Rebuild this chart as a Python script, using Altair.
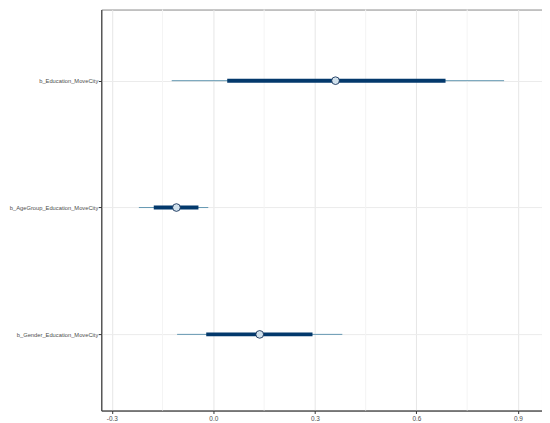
import altair as alt
import pandas as pd

params = ["b_Education_MoveCity", "b_AgeGroup_Education_MoveCity", "b_Gender_Education_MoveCity"]
ll = [-0.123, -0.220, -0.107]
l = [0.041, -0.176, -0.021]
m = [0.361, -0.109, 0.137]
h = [0.686, -0.044, 0.293]
hh = [0.859, -0.015, 0.381]
major_ticks = [-0.3, 0.0, 0.3, 0.6, 0.9]
minor_ticks = [-0.15, 0.15, 0.45, 0.75]

df = pd.DataFrame({"parameter": params, "ll": ll, "l": l, "m": m, "h": h, "hh": hh})
minor_df = pd.DataFrame({"v": minor_ticks})

xscale = alt.Scale(domain=[-0.331, 0.971], nice=False, zero=False)
yscale = alt.Scale(type="point", domain=params, padding=0.5806, align=0.483)

xaxis = alt.Axis(values=major_ticks, labelExpr="replace(format(datum.value, '.1f'), '\u2212', '-')",
                 title=None, grid=True, gridColor="#e6e6e6", gridWidth=1,
                 domainColor="#333333", tickColor="#333333", tickSize=3,
                 labelFont="Liberation Sans", labelFontSize=6.5, labelColor="#4d4d4d", labelPadding=2)
yaxis = alt.Axis(title=None, grid=True, gridColor="#ebebeb", gridWidth=1,
                 domainColor="#333333", tickColor="#333333", tickSize=3,
                 labelFont="Liberation Sans", labelFontSize=5.8, labelColor="#4d4d4d", labelPadding=0.5)

minor = alt.Chart(minor_df).mark_rule(color="#f4f4f4", strokeWidth=1).encode(
    x=alt.X("v:Q", scale=xscale, axis=xaxis)
)

base = alt.Chart(df)
outer = base.mark_rule(color="#6497b1", strokeWidth=1).encode(
    x=alt.X("ll:Q", scale=xscale),
    x2="hh:Q",
    y=alt.Y("parameter:N", scale=yscale, axis=yaxis, sort=params),
)
inner = base.mark_rule(color="#03396c", strokeWidth=4).encode(
    x=alt.X("l:Q", scale=xscale),
    x2="h:Q",
    y=alt.Y("parameter:N", scale=yscale, sort=params),
)
point = base.mark_point(shape="circle", filled=True, fill="#d1e1ec", stroke="#011f4b",
                        strokeWidth=0.8, size=60, opacity=1).encode(
    x=alt.X("m:Q", scale=xscale),
    y=alt.Y("parameter:N", scale=yscale, sort=params),
)

chart = alt.layer(minor, outer, inner, point).properties(
    width=444, height=404,
    autosize=alt.AutoSizeParams(type="none"),
    padding={"left": 94, "top": 0, "right": 0, "bottom": 11},
).configure_view(stroke="#888888", strokeWidth=1)

chart.save("out.html", embed_options={"renderer": "svg", "actions": False})
